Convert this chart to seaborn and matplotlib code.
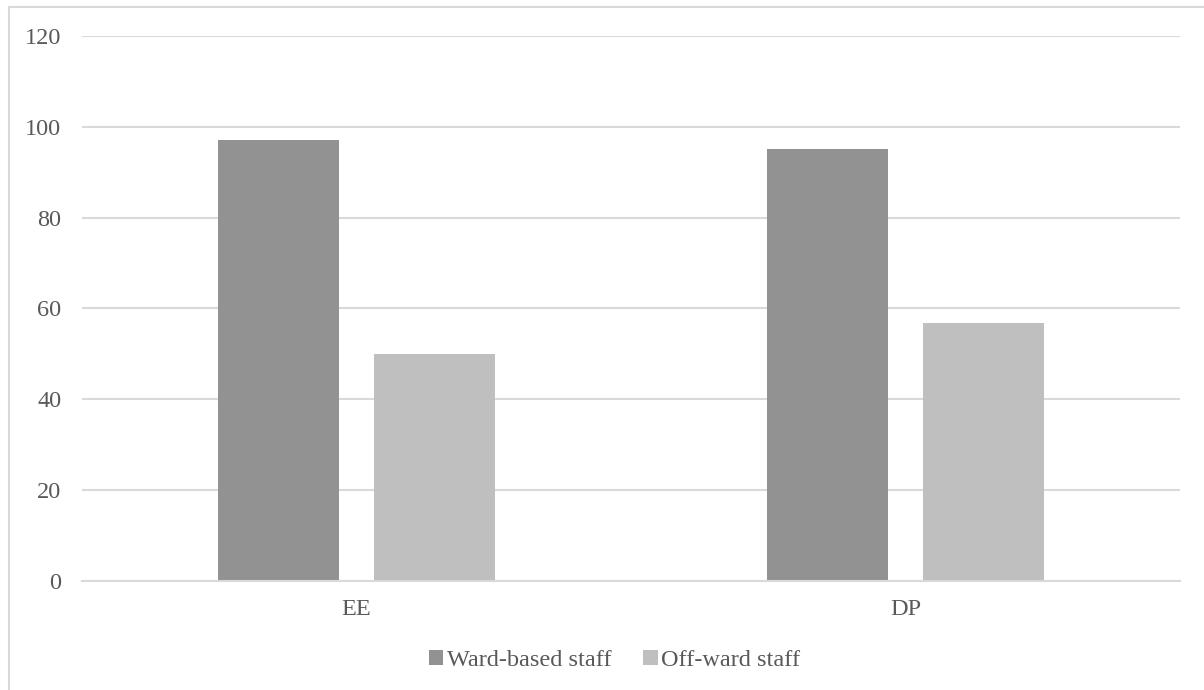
import pandas as pd
import matplotlib.pyplot as plt
import seaborn as sns
from matplotlib.lines import Line2D

# Data
categories = ["EE", "DP"]
groups = ["Ward-based staff", "Off-ward staff"]
ward_values = [97.0, 95.1]
offward_values = [50.0, 56.8]
y_ticks = [0, 20, 40, 60, 80, 100, 120]

df = pd.DataFrame({
    "Category": categories * 2,
    "Group": [groups[0]] * 2 + [groups[1]] * 2,
    "Value": ward_values + offward_values,
})

sns.set_style("white")
plt.rcParams['font.family'] = ['Liberation Serif', 'DejaVu Serif']
text_color = "#595959"

fig = plt.figure(figsize=(12.04, 6.9), dpi=100)
ax = fig.add_axes([0.0681, 0.158, 0.9119, 0.7898])

sns.barplot(data=df, x="Category", y="Value", hue="Group", ax=ax,
            order=categories, hue_order=groups,
            palette={groups[0]: "#929292", groups[1]: "#bfbfbf"},
            width=0.568, gap=0.22, saturation=1, errorbar=None,
            edgecolor="none")

ax.set_xlim(-0.5, 1.5)
ax.set_ylim(0, 120)
ax.set_yticks(y_ticks)
ax.yaxis.grid(True, color="#d9d9d9", linewidth=1.5)
ax.set_axisbelow(True)
for s in ["top", "right", "left"]:
    ax.spines[s].set_visible(False)
ax.spines["bottom"].set_color("#d9d9d9")
ax.spines["bottom"].set_linewidth(1.5)
ax.tick_params(axis="y", length=0, pad=15, labelsize=17.5, labelcolor=text_color)
ax.tick_params(axis="x", length=0, pad=13, labelsize=17.5, labelcolor=text_color)
ax.set_xlabel("")
ax.set_ylabel("")

ax.legend(loc="center", bbox_to_anchor=(0.5105, 0.043), bbox_transform=fig.transFigure,
          ncol=2, frameon=False, fontsize=17.5, labelcolor=text_color,
          handlelength=0.6, handleheight=0.6, handletextpad=0.15, columnspacing=1.3)

# chart border (left and top visible)
fig.add_artist(Line2D([0.0072, 0.0072], [0.0, 0.99], color="#d9d9d9", linewidth=1.5))
fig.add_artist(Line2D([0.0072, 1.0], [0.99, 0.99], color="#d9d9d9", linewidth=1.5))

plt.savefig("out.png", dpi=100)
